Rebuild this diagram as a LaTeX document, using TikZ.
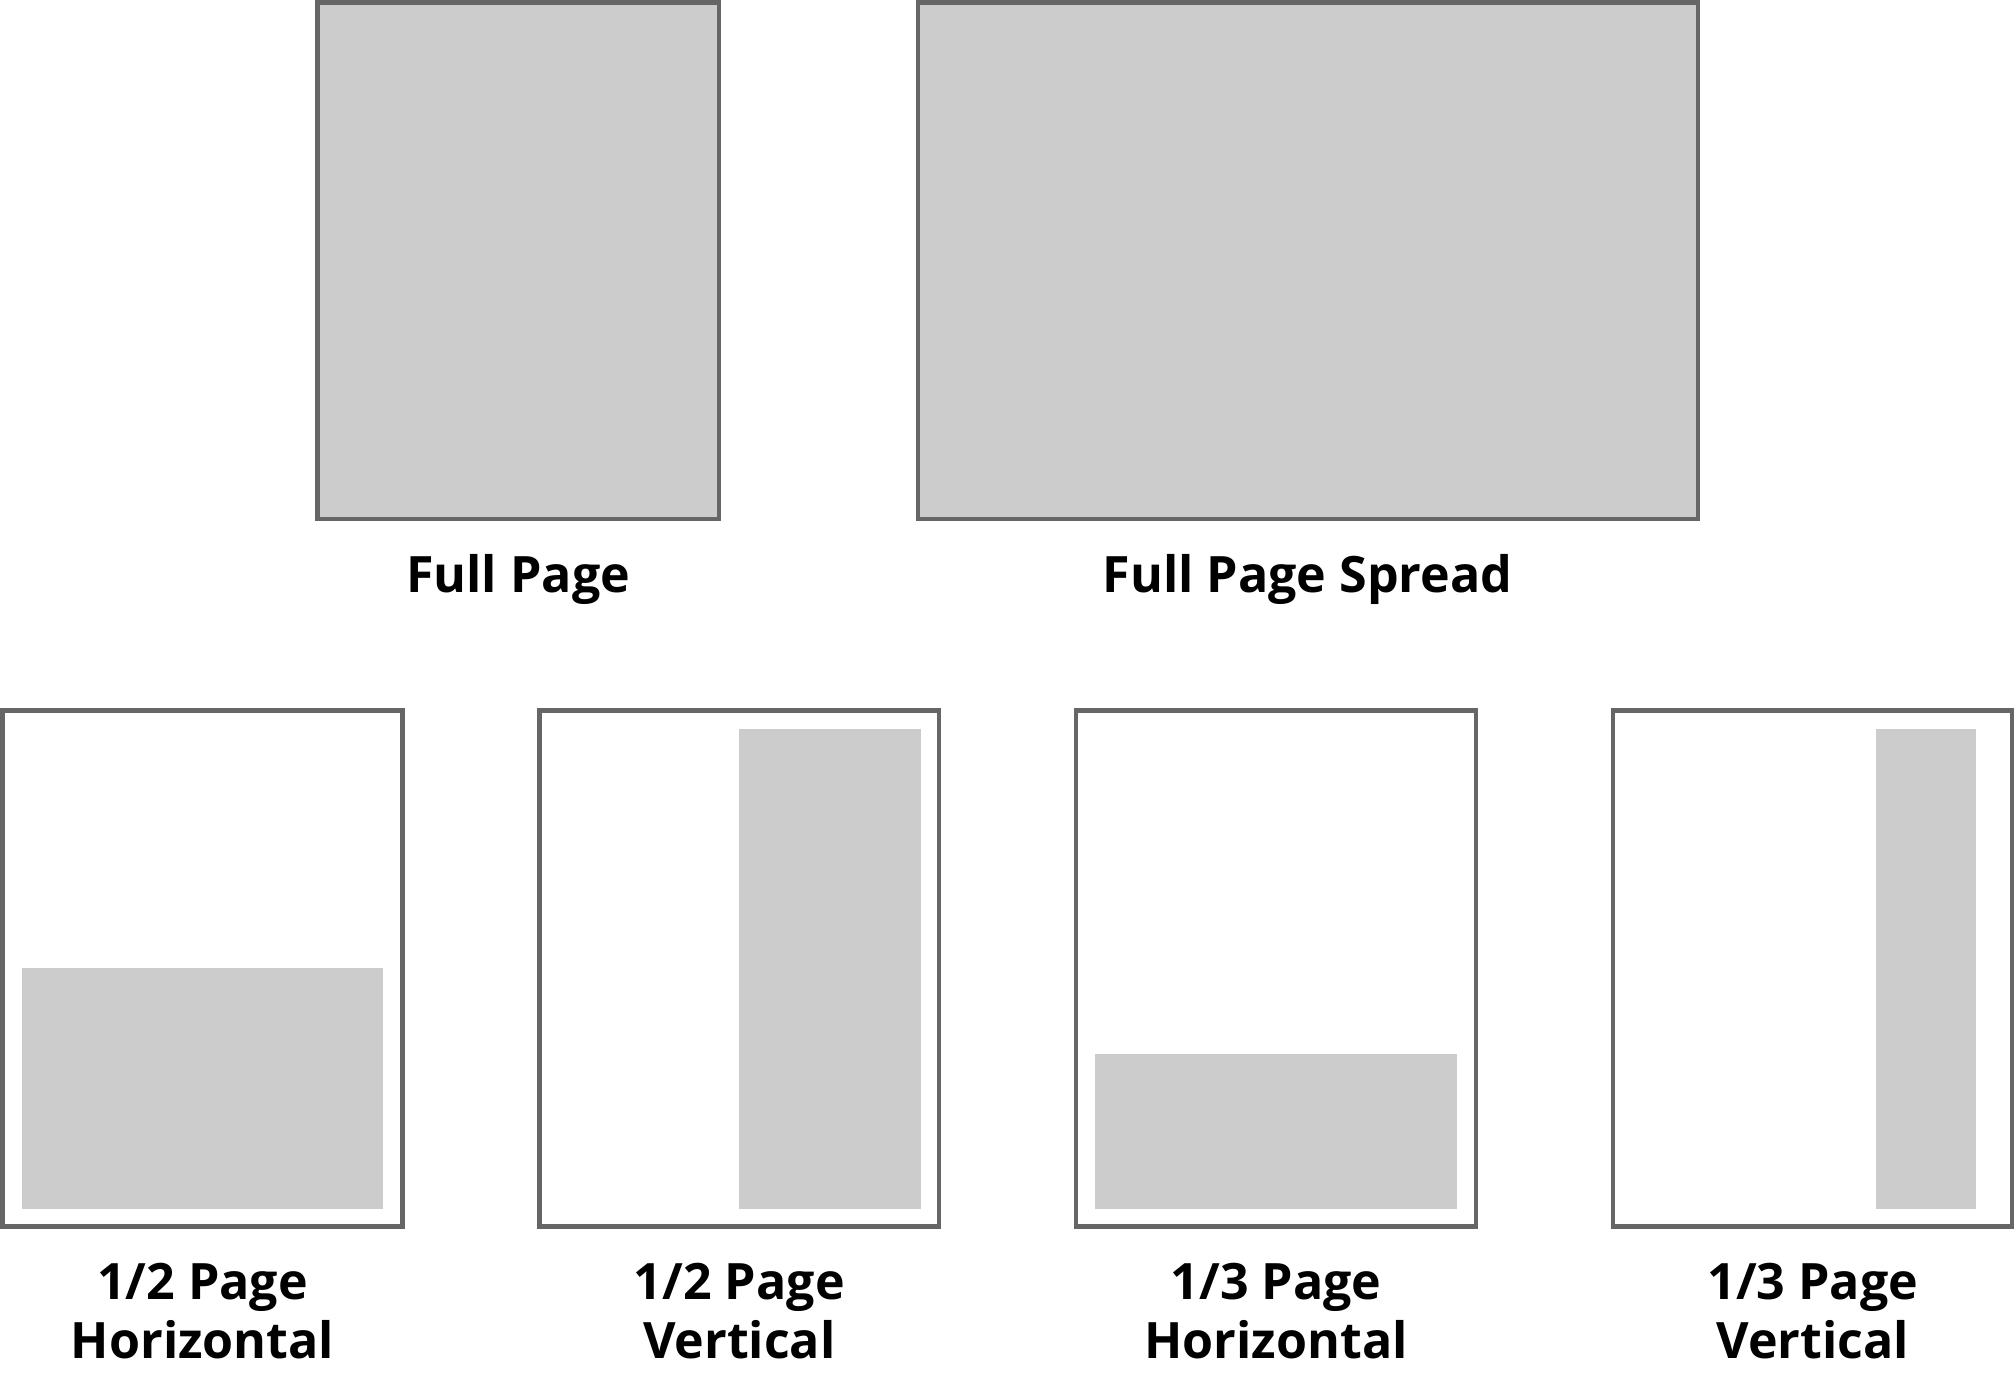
\documentclass[tikz,border=0pt]{standalone}
\usepackage{fontspec}
\setmainfont{Open Sans}
\definecolor{pagestroke}{HTML}{666666}
\definecolor{adfill}{HTML}{CCCCCC}
\begin{document}
\begin{tikzpicture}[x=1pt,y=-1pt,
  page/.style={draw=pagestroke,line width=3.4pt},
  fullpage/.style={page,fill=adfill},
  adblock/.style={fill=adfill},
  lbl/.style={inner sep=0pt,anchor=base,align=center,font=\fontsize{39}{45.5}\selectfont\bfseries}]
\useasboundingbox (0,0) rectangle (1568,1070);
% top row
\draw[fullpage] (247,2) rectangle (559,403.5);
\draw[fullpage] (714,2) rectangle (1320.5,403.5);
\node[lbl] (lfull) at (403,461) {Full Page};
\node[lbl] (lspread) at (1017,461) {Full Page Spread};
% bottom row
\draw[page] (2,552.5) rectangle (313,954);
\fill[adblock] (17,753) rectangle (298,940);
\draw[page] (419.5,552.5) rectangle (730.5,954);
\fill[adblock] (575,567) rectangle (716,940);
\draw[page] (837,552.5) rectangle (1148,954);
\fill[adblock] (852,820) rectangle (1133,940);
\draw[page] (1254.5,552.5) rectangle (1565,954);
\fill[adblock] (1459,567) rectangle (1537,940);
\node[lbl] (lhh) at (157.5,1056.5) {1/2 Page\\Horizontal};
\node[lbl] (lhv) at (575,1056.5) {1/2 Page\\Vertical};
\node[lbl] (lth) at (992.5,1056.5) {1/3 Page\\Horizontal};
\node[lbl] (ltv) at (1410,1056.5) {1/3 Page\\Vertical};
\end{tikzpicture}
\end{document}
